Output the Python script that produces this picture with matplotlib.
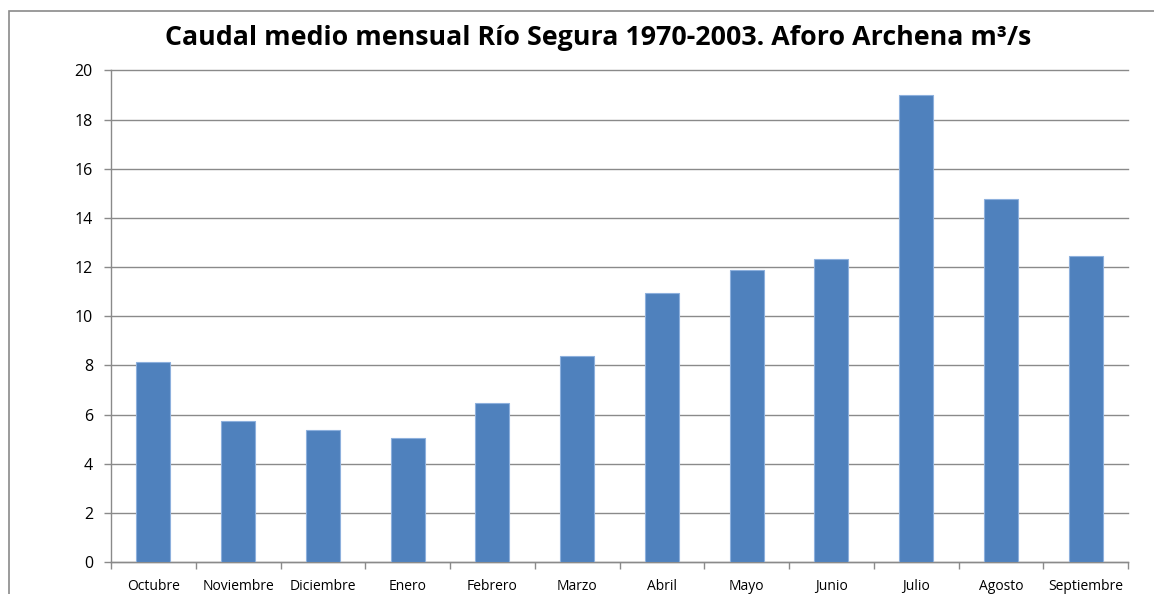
import matplotlib
matplotlib.use("Agg")
import matplotlib.pyplot as plt
from matplotlib.patches import Rectangle

months = ["Octubre", "Noviembre", "Diciembre", "Enero", "Febrero", "Marzo",
          "Abril", "Mayo", "Junio", "Julio", "Agosto", "Septiembre"]
flow = [8.15, 5.75, 5.37, 5.03, 6.45, 8.39, 10.95, 11.87, 12.32, 19.02, 14.76, 12.45]
yticks = [0, 2, 4, 6, 8, 10, 12, 14, 16, 18, 20]
title = "Caudal medio mensual Río Segura 1970-2003. Aforo Archena m³/s"

W, H = 1154, 594
fig = plt.figure(figsize=(W / 100, H / 100), dpi=100)
fig.patch.set_facecolor("white")

# outer chart frame
fig.patches.append(Rectangle((8.5 / W, -0.1), 1.2, 1.1 - 10.5 / H,
                             transform=fig.transFigure, fill=False,
                             edgecolor="#8a8a8a", linewidth=1.2, clip_on=False))

ax = fig.add_axes([111 / W, 1 - 562 / H, (1128 - 111) / W, (562 - 70.5) / H])
x = list(range(len(months)))
ax.bar(x, flow, width=0.4, color="#4F81BD", edgecolor="#8DB0DD", linewidth=0.8, zorder=3)
ax.set_xlim(-0.5, len(months) - 0.5)
ax.set_ylim(0, 20)
ax.set_yticks(yticks)
ax.set_yticklabels([str(t) for t in yticks], fontsize=11.5, fontfamily="Open Sans")
ax.set_xticks(x)
ax.set_xticklabels(months, fontsize=10, fontfamily="Open Sans")
ax.set_xticks([i - 0.5 for i in range(len(months) + 1)], minor=True)
ax.grid(axis="y", color="#8a8a8a", linewidth=1.0, zorder=0)
for gl in ax.get_ygridlines():
    gl.set_clip_on(False)
for s in ["top", "right"]:
    ax.spines[s].set_visible(False)
for s in ["left", "bottom"]:
    ax.spines[s].set_color("#8a8a8a")
    ax.spines[s].set_linewidth(1.0)
ax.tick_params(axis="x", which="major", length=0, pad=12)
ax.tick_params(axis="x", which="minor", length=5, color="#8a8a8a", width=1.0)
ax.tick_params(axis="y", length=5, color="#8a8a8a", width=1.0, pad=8)

fig.text(598 / W, 1 - 38 / H, title, ha="center", va="center",
         fontsize=19.3, fontweight="bold", fontfamily="Open Sans")

fig.savefig("out.png", dpi=100)
